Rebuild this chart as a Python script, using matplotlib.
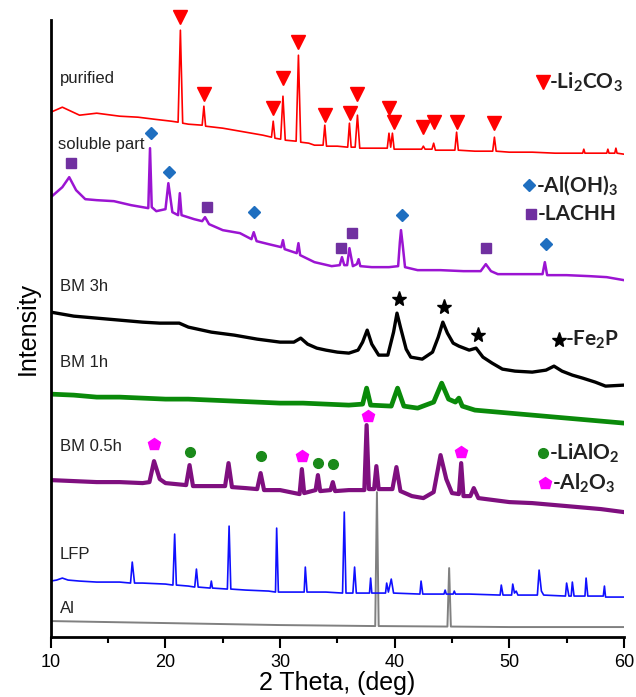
import matplotlib.pyplot as plt
from matplotlib.ticker import MultipleLocator

# ============================================================
# Patterns: 2theta (deg) and stacked intensity
# (arbitrary units, offsets already included)
# ============================================================

PURIFIED_X = [10, 11, 12.5, 14, 16, 17.6, 19, 20.5, 21.1, 21.3, 21.5, 22, 23.2, 23.35, 23.5,
              25, 27, 28.5, 29.25, 29.4, 29.55, 30.05, 30.25, 30.45, 31.4, 31.6, 31.8, 32.5,
              33, 33.75, 33.9, 34.05, 35, 35.9, 36.05, 36.2, 36.55, 36.75, 36.95, 38, 39.35,
              39.5, 39.65, 39.8, 39.95, 41, 42.35, 42.5, 42.65, 43.25, 43.4, 43.55, 44.5,
              45.25, 45.4, 45.55, 47, 48.55, 48.7, 48.85, 50, 52, 54, 56.4, 56.5, 56.6, 57.5,
              58.5, 58.6, 58.7, 59.2, 59.3, 59.4, 60]
PURIFIED_Y = [525, 530, 522, 524, 521, 520, 518, 516, 515, 607, 514, 513, 512, 531, 511,
              509, 505, 502, 500, 516, 499, 498, 541, 497, 496, 582, 495, 494,
              492, 492, 512, 491, 491, 490, 514, 490, 490, 522, 489, 489, 489,
              504, 490, 504, 488, 488, 488, 491, 488, 488, 494, 487, 487,
              487, 505, 487, 486, 486, 500, 486, 485, 485, 484, 484, 488, 484, 484,
              484, 488, 484, 484, 489, 484, 483]

SOLUBLE_X = [10, 10.5, 11, 11.6, 12.2, 13, 14, 15.5, 17, 18.5, 18.65, 18.8, 19.2, 20.0, 20.25,
             20.6, 21.1, 21.25, 21.4, 22.5, 23.2, 23.45, 23.8, 25, 26.5, 27.5, 27.7, 27.95,
             29, 30.1, 30.25, 30.4, 31.45, 31.6, 31.75, 33, 34.5, 35.2, 35.4, 35.6, 35.85,
             36.05, 36.35, 36.7, 36.85, 37.0, 38, 39.5, 40.3, 40.45, 40.55, 40.7, 40.9, 42,
             44, 46, 47.5, 47.95, 48.4, 49, 51, 52.9, 53.1, 53.3, 55, 57, 58.5, 60]
SOLUBLE_Y = [440, 445, 450, 460, 447, 438, 437, 436, 432, 429, 489, 430, 426, 428, 454,
             425, 422, 444, 422, 418, 416, 420, 413, 407, 404, 398, 405, 396,
             393, 390, 397, 388, 384, 394, 382, 375, 371, 372, 380, 372, 372,
             389, 371, 373, 378, 371, 370, 370, 371, 395, 407, 392, 370, 367,
             367, 366, 366, 373, 366, 363, 363, 363, 375, 362, 362, 361, 360, 357]

BM3H_X = [10, 12, 14, 16, 18, 19.5, 21.2, 22, 24, 26, 28, 30, 31.2, 31.8, 32.4, 33.2, 34, 35,
          36, 36.8, 37.2, 37.6, 38.0, 38.6, 39.4, 39.9, 40.2, 40.5, 41.0, 41.4, 42.4, 43.3,
          43.8, 44.2, 44.6, 45.1, 45.6, 46.5, 47.1, 47.7, 48.5, 49.4, 50.5, 52, 53.2, 53.9,
          54.6, 55.5, 56.4, 57.5, 58.4, 60]
BM3H_Y = [325, 321, 319, 317, 315, 314, 314, 310, 305, 302, 298, 295, 295, 299, 293, 289, 287, 285,
          284, 287, 295, 307, 293, 282, 282, 305, 324, 310, 288, 280, 278, 285,
          300, 315, 304, 294, 291, 287, 289, 280, 274, 268, 266, 265, 267, 271,
          266, 262, 259, 255, 251, 252]

BM1H_X = [10, 12, 14, 16, 18, 20, 22, 24, 26, 28, 30, 32, 34, 36, 37.2, 37.55, 37.9, 39.7, 40.25,
          40.8, 42, 43.4, 44.1, 44.7, 45.3, 45.6, 45.9, 47, 48, 50, 52, 54, 56, 58, 60]
BM1H_Y = [243, 242, 240, 240, 239, 238, 238, 237, 236, 235, 234, 234, 233, 232, 233, 249, 232, 231, 249,
          231, 229, 235, 254, 238, 235, 239, 231, 227, 226, 224, 222, 220, 218, 216, 214]

BM05H_X = [10, 12, 14, 16, 18, 18.6, 19.0, 19.5, 20, 21.8, 22.1, 22.4, 24, 25.2, 25.5, 25.8, 27,
           28.0, 28.3, 28.6, 30, 31.7, 31.9, 32.1, 33.1, 33.3, 33.5, 34.4, 34.6, 34.8, 36,
           37.35, 37.55, 37.75, 38.2, 38.4, 38.6, 39.8, 40.15, 40.5, 41.5, 42.5, 43.4, 44.0,
           44.5, 45, 45.6, 45.8, 46.0, 46.6, 46.9, 47.3, 50, 52, 54, 56, 58, 60]
BM05H_Y = [157, 156, 155, 155, 154, 155, 176, 158, 154, 152, 172, 151, 151, 151, 174, 150, 149,
           148, 164, 147, 147, 143, 168, 144, 147, 162, 146, 147, 155, 146, 147,
           147, 212, 148, 148, 171, 148, 148, 170, 146, 141, 139, 145, 182,
           158, 144, 143, 174, 141, 141, 149, 139, 135, 134, 132, 130, 128, 125]

LFP_X = [10, 10.5, 11, 11.5, 12.5, 14, 16, 16.95, 17.1, 17.3, 18, 20, 20.65, 20.8, 20.95, 22,
         22.55, 22.7, 22.85, 23.9, 24.0, 24.1, 25.4, 25.55, 25.7, 27, 29, 29.6, 29.7, 29.85,
         31, 32.1, 32.2, 32.35, 34, 35.45, 35.6, 35.75, 36.35, 36.5, 36.65, 37.8, 37.9, 38.0,
         39.2, 39.3, 39.45, 39.7, 39.9, 42.2, 42.3, 42.45, 44.3, 44.4, 44.5, 45.1, 45.2, 45.3,
         46.5, 49.2, 49.3, 49.45, 50.2, 50.3, 50.45, 50.6, 50.75, 52.45, 52.6, 52.8, 53.0,
         54.9, 55.0, 55.2, 55.4, 55.5, 55.65, 56.6, 56.7, 56.85, 58.2, 58.3, 58.4, 60]
LFP_Y = [56, 57, 59, 57, 56, 55, 55, 54, 75, 54, 54, 53, 52, 103, 52, 51,
         50, 68, 50, 49, 56, 49, 48, 111, 48, 47, 46, 45, 109, 45,
         45, 45, 70, 45, 45, 44, 125, 44, 44, 70, 44, 44, 59, 44,
         44, 54, 45, 58, 44, 43, 56, 43, 43, 47, 43, 43, 46, 43,
         43, 42, 52, 42, 42, 53, 44, 46, 42, 42, 67, 46, 42,
         41, 54, 41, 41, 55, 41, 41, 59, 41, 41, 51, 40, 40]

AL_X = [10, 20, 30, 38.3, 38.45, 38.6, 44.6, 44.75, 44.9, 50, 60]
AL_Y = [16, 14, 12, 11, 145, 11, 10.5, 69, 10.5, 10, 10]

TRACE_LABELS = ["purified", "soluble part", "BM 3h", "BM 1h", "BM 0.5h", "LFP", "Al"]
TRACE_LABEL_Y = [559, 493, 351, 275, 191, 83, 29]

# phase markers
LI2CO3_X = [21.3, 23.35, 29.4, 30.25, 31.6, 33.9, 36.1, 36.7, 39.5, 39.9, 42.5, 43.4, 45.4, 48.7]
LI2CO3_Y = [620, 543, 529, 559, 595, 522, 524, 543, 529, 515, 510, 515, 515, 514]
ALOH3_X = [18.7, 20.3, 27.7, 40.6, 53.2]
ALOH3_Y = [504, 465, 425, 422, 393]
LACHH_X = [11.75, 23.6, 35.3, 36.3, 48.0]
LACHH_Y = [474, 430, 389, 404, 389]
FE2P_X = [40.4, 44.3, 47.3]
FE2P_Y = [338, 330, 302]
LIALO2_X = [22.1, 28.3, 33.3, 34.6]
LIALO2_Y = [185, 181, 174, 173]
AL2O3_X = [19.0, 31.9, 37.7, 45.8]
AL2O3_Y = [193, 181, 221, 185]

plt.rcParams.update({
    "font.family": "Liberation Sans",
    "mathtext.fontset": "custom",
    "mathtext.rm": "Lato:bold",
    "mathtext.bf": "Lato:bold",
    "mathtext.it": "Lato:bold",
    "mathtext.default": "rm",
})

fig = plt.figure(figsize=(6.36, 6.97), dpi=100)
ax = fig.add_axes([0.080, 0.086, 0.901, 0.885])

traces = [
    (PURIFIED_X, PURIFIED_Y, "#ff0000", 1.2),
    (SOLUBLE_X, SOLUBLE_Y, "#9b14d2", 1.8),
    (BM3H_X, BM3H_Y, "#000000", 2.4),
    (BM1H_X, BM1H_Y, "#0a8a0a", 3.4),
    (BM05H_X, BM05H_Y, "#7f0f7f", 3.0),
    (AL_X, AL_Y, "#808080", 1.4),
    (LFP_X, LFP_Y, "#1010ff", 1.2),
]
for xs, ys, color, lw in traces:
    ax.plot(xs, ys, color=color, lw=lw, solid_joinstyle="round")

for name, ty in zip(TRACE_LABELS, TRACE_LABEL_Y):
    x0 = 10.6 if name == "soluble part" else 10.8
    ax.text(x0, ty, name, fontsize=12, va="center", ha="left", color="#222222")

# phase markers
mk = dict(ls="none", clip_on=False, zorder=5)
ax.plot(LI2CO3_X, LI2CO3_Y, marker="v", ms=10, color="#ff0000", **mk)
ax.plot(ALOH3_X, ALOH3_Y, marker="D", ms=6, color="#1f6fc0", **mk)
ax.plot(LACHH_X, LACHH_Y, marker="s", ms=7, color="#7030a0", **mk)
ax.plot(FE2P_X, FE2P_Y, marker="*", ms=11, color="#000000", **mk)
ax.plot(LIALO2_X, LIALO2_Y, marker="o", ms=7, color="#1a8a1a", **mk)
ax.plot(AL2O3_X, AL2O3_Y, marker="p", ms=9, color="#ff00ff", **mk)

# phase key
keys = [
    (52.9, 555, "v", 10, "#ff0000", r"-Li$_2$CO$_3$"),
    (51.7, 452, "D", 6, "#1f6fc0", r"-Al(OH)$_3$"),
    (51.9, 423, "s", 7, "#7030a0", "-LACHH"),
    (54.3, 297, "*", 11, "#000000", r"-Fe$_2$P"),
    (52.9, 184, "o", 7, "#1a8a1a", r"-LiAlO$_2$"),
    (53.1, 154, "p", 9, "#ff00ff", r"-Al$_2$O$_3$"),
]
for kx, ky, m, ms, c, txt in keys:
    ax.plot([kx], [ky], marker=m, ms=ms, color=c, ls="none")
    ax.text(kx + 0.6, ky, txt, fontsize=15, fontfamily="Lato", fontweight="bold",
            va="center", ha="left", color="#222222")

ax.set_xlim(10, 60)
ax.set_ylim(0, 617)
ax.xaxis.set_major_locator(MultipleLocator(10))
ax.xaxis.set_minor_locator(MultipleLocator(5))
ax.tick_params(axis="x", which="major", direction="out", length=8, width=1.5,
               labelsize=13, pad=4)
ax.tick_params(axis="x", which="minor", direction="out", length=4, width=1.5)
ax.set_yticks([])
for side in ("top", "right"):
    ax.spines[side].set_visible(False)
for side in ("left", "bottom"):
    ax.spines[side].set_linewidth(2)

ax.set_xlabel("2 Theta, (deg)", fontsize=18, labelpad=0)
ax.set_ylabel("Intensity", fontsize=18, labelpad=8)

fig.savefig("out.png", dpi=100)
